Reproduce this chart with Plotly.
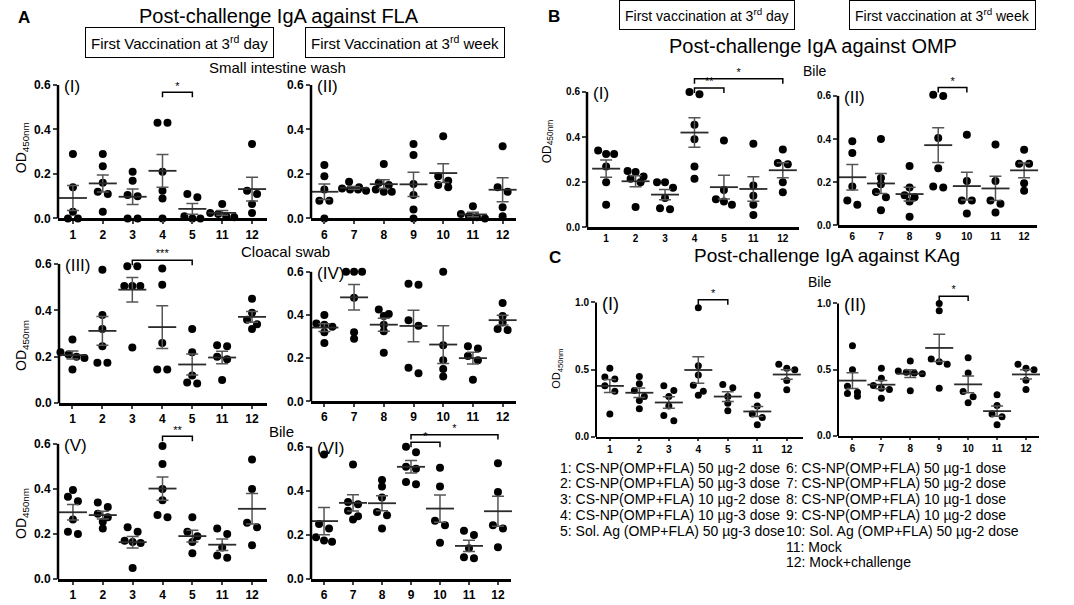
import numpy as np
import plotly.graph_objects as go

W, H = 1074, 605
FONT = "Arial, Liberation Sans, sans-serif"

cats_day = ["1", "2", "3", "4", "5", "11", "12"]
cats_week = ["6", "7", "8", "9", "10", "11", "12"]

# post-challenge IgA, OD450nm per bird, one list per group
fla_intestine_day = [
    [0.29, 0.14, 0.03, 0.0, 0.0],
    [0.29, 0.235, 0.16, 0.12, 0.11, 0.03],
    [0.21, 0.17, 0.105, 0.10, 0.0, 0.0],
    [0.43, 0.43, 0.21, 0.125, 0.09, 0.0],
    [0.11, 0.095, 0.01, 0.0, 0.0],
    [0.065, 0.025, 0.02, 0.01, 0.005],
    [0.335, 0.125, 0.11, 0.065, 0.025],
]
fla_intestine_week = [
    [0.24, 0.19, 0.13, 0.08, 0.08, 0.0],
    [0.165, 0.14, 0.135, 0.13, 0.13, 0.125],
    [0.245, 0.16, 0.15, 0.13, 0.12, 0.12],
    [0.335, 0.285, 0.155, 0.105, 0.04, 0.0],
    [0.37, 0.19, 0.17, 0.15, 0.14],
    [0.055, 0.02, 0.01, 0.005, 0.0],
    [0.325, 0.14, 0.12, 0.05, 0.01],
]
fla_cloacal_day = [
    [0.275, 0.22, 0.21, 0.2, 0.195, 0.145],
    [0.575, 0.38, 0.32, 0.245, 0.175, 0.175],
    [0.59, 0.59, 0.505, 0.505, 0.505, 0.24],
    [0.58, 0.51, 0.26, 0.145, 0.145],
    [0.32, 0.22, 0.12, 0.09, 0.085],
    [0.25, 0.245, 0.2, 0.19, 0.1],
    [0.45, 0.39, 0.36, 0.34, 0.32],
]
fla_cloacal_week = [
    [0.40, 0.36, 0.355, 0.345, 0.32, 0.27],
    [0.60, 0.60, 0.60, 0.48, 0.32, 0.29],
    [0.425, 0.405, 0.395, 0.355, 0.325, 0.225],
    [0.545, 0.54, 0.375, 0.35, 0.155, 0.13],
    [0.60, 0.26, 0.19, 0.15, 0.115],
    [0.255, 0.245, 0.21, 0.19, 0.1],
    [0.455, 0.395, 0.365, 0.335, 0.33],
]
fla_bile_day = [
    [0.395, 0.365, 0.345, 0.265, 0.21, 0.2],
    [0.34, 0.32, 0.29, 0.275, 0.255, 0.225],
    [0.23, 0.21, 0.17, 0.165, 0.16, 0.05],
    [0.59, 0.51, 0.40, 0.35, 0.285, 0.275],
    [0.275, 0.21, 0.19, 0.165, 0.115],
    [0.225, 0.2, 0.14, 0.105, 0.095],
    [0.53, 0.4, 0.25, 0.23, 0.15],
]
fla_bile_week = [
    [0.565, 0.25, 0.23, 0.19, 0.175, 0.17],
    [0.52, 0.35, 0.34, 0.31, 0.285, 0.27],
    [0.45, 0.42, 0.37, 0.305, 0.29, 0.23],
    [0.6, 0.575, 0.51, 0.5, 0.44, 0.43],
    [0.505, 0.42, 0.265, 0.245, 0.165],
    [0.22, 0.2, 0.14, 0.1, 0.095],
    [0.525, 0.395, 0.245, 0.23, 0.145],
]
omp_bile_day = [
    [0.34, 0.325, 0.325, 0.27, 0.2, 0.1],
    [0.25, 0.245, 0.225, 0.215, 0.2, 0.09],
    [0.2, 0.2, 0.175, 0.13, 0.085, 0.08],
    [0.6, 0.59, 0.455, 0.39, 0.27, 0.215],
    [0.385, 0.165, 0.125, 0.115, 0.1],
    [0.37, 0.185, 0.14, 0.1, 0.055],
    [0.345, 0.285, 0.28, 0.2, 0.155],
]
omp_bile_week = [
    [0.39, 0.335, 0.18, 0.115, 0.095],
    [0.4, 0.22, 0.19, 0.155, 0.13, 0.07],
    [0.275, 0.175, 0.14, 0.13, 0.11, 0.04],
    [0.605, 0.6, 0.405, 0.265, 0.18, 0.175],
    [0.42, 0.205, 0.115, 0.115, 0.055],
    [0.375, 0.205, 0.115, 0.1, 0.06],
    [0.35, 0.285, 0.285, 0.195, 0.16],
]
kag_bile_day = [
    [0.51, 0.445, 0.43, 0.38, 0.34, 0.17],
    [0.45, 0.395, 0.345, 0.3, 0.27, 0.21],
    [0.38, 0.345, 0.3, 0.23, 0.16, 0.12],
    [0.96, 0.53, 0.46, 0.385, 0.34, 0.31],
    [0.39, 0.365, 0.3, 0.25, 0.195],
    [0.31, 0.23, 0.17, 0.145, 0.09],
    [0.54, 0.51, 0.5, 0.42, 0.35],
]
kag_bile_week = [
    [0.68, 0.5, 0.375, 0.33, 0.32, 0.3],
    [0.51, 0.435, 0.38, 0.36, 0.35, 0.285],
    [0.565, 0.49, 0.48, 0.475, 0.47, 0.34],
    [1.0, 0.945, 0.58, 0.56, 0.54, 0.36],
    [0.59, 0.475, 0.335, 0.295, 0.25],
    [0.31, 0.23, 0.165, 0.145, 0.085],
    [0.54, 0.51, 0.5, 0.42, 0.35],
]

# significance: (group from, group to, bracket level, stars)
sig_fla_intestine_day = [(3, 4, 0.567, "*")]
sig_fla_cloacal_day = [(2, 4, 0.616, "***")]
sig_fla_bile_day = [(3, 4, 0.633, "**")]
sig_fla_bile_week = [(3, 4, 0.62, "*"), (3, 6, 0.655, "*")]
sig_omp_bile_day = [(3, 4, 0.617, "**"), (3, 6, 0.658, "*")]
sig_omp_bile_week = [(3, 4, 0.639, "*")]
sig_kag_bile_day = [(3, 4, 1.02, "*")]
sig_kag_bile_week = [(3, 4, 1.055, "*")]

legend_left = [
    "1: CS-NP(OMP+FLA) 50 µg-2 dose",
    "2: CS-NP(OMP+FLA) 50 µg-3 dose",
    "3: CS-NP(OMP+FLA) 10 µg-2 dose",
    "4: CS-NP(OMP+FLA) 10 µg-3 dose",
    "5: Sol. Ag (OMP+FLA) 50 µg-3 dose",
]
legend_right = [
    "6: CS-NP(OMP+FLA) 50 µg-1 dose",
    "7: CS-NP(OMP+FLA) 50 µg-2 dose",
    "8: CS-NP(OMP+FLA) 10 µg-1 dose",
    "9: CS-NP(OMP+FLA) 10 µg-2 dose",
    "10: Sol. Ag (OMP+FLA) 50 µg-2 dose",
    "11: Mock",
    "12: Mock+challenge",
]

# panel boxes in px: left, right, y of 0, y of top tick
panels = [
    dict(vals=fla_intestine_day, cats=cats_day, box=(58, 267, 221, 86), xr=(-0.5, 6.5),
         ymax=0.6, top=0.72, tag="(I)", sig=sig_fla_intestine_day, kind="A"),
    dict(vals=fla_intestine_week, cats=cats_week, box=(311, 516, 221, 86), xr=(-0.45, 6.45),
         ymax=0.6, top=0.72, tag="(II)", sig=[], kind="A"),
    dict(vals=fla_cloacal_day, cats=cats_day, box=(59, 267, 408, 267), xr=(-0.45, 6.5),
         ymax=0.6, top=0.72, tag="(III)", sig=sig_fla_cloacal_day, kind="A"),
    dict(vals=fla_cloacal_week, cats=cats_week, box=(311, 516, 406, 275), xr=(-0.45, 6.45),
         ymax=0.6, top=0.72, tag="(IV)", sig=[], kind="A"),
    dict(vals=fla_bile_day, cats=cats_day, box=(58, 267, 586, 449), xr=(-0.5, 6.5),
         ymax=0.6, top=0.72, tag="(V)", sig=sig_fla_bile_day, kind="A"),
    dict(vals=fla_bile_week, cats=cats_week, box=(311, 511, 586, 452), xr=(-0.45, 6.45),
         ymax=0.6, top=0.72, tag="(VI)", sig=sig_fla_bile_week, kind="A"),
    dict(vals=omp_bile_day, cats=cats_day, box=(587, 799, 230, 93), xr=(-0.65, 6.55),
         ymax=0.6, top=0.72, tag="(I)", sig=sig_omp_bile_day, kind="B"),
    dict(vals=omp_bile_week, cats=cats_week, box=(838, 1037, 228, 97), xr=(-0.5, 6.45),
         ymax=0.6, top=0.72, tag="(II)", sig=sig_omp_bile_week, kind="B"),
    dict(vals=kag_bile_day, cats=cats_day, box=(596, 803, 442, 306), xr=(-0.47, 6.55),
         ymax=1.0, top=1.15, tag="(I)", sig=sig_kag_bile_day, kind="C"),
    dict(vals=kag_bile_week, cats=cats_week, box=(838, 1039, 441, 307), xr=(-0.5, 6.45),
         ymax=1.0, top=1.15, tag="(II)", sig=sig_kag_bile_week, kind="C"),
]

# per figure part: axis width, tick font, x tick length, marker size
style = {
    "A": dict(lw=2.5, tick=12, xtl=3, ms=8),
    "B": dict(lw=2.5, tick=10, xtl=0, ms=8),
    "C": dict(lw=2, tick=10, xtl=2, ms=7),
}


def swarm(vals, ppu, ppc):
    # spread points of similar height sideways, like a column scatter
    vals = np.asarray(vals)
    order = np.argsort(-vals, kind="stable")
    xs = np.zeros(len(vals))
    rows, row = [], []
    for i in order:
        if row and (vals[row[0]] - vals[i]) * ppu > 6.5:
            rows.append(row)
            row = []
        row.append(i)
    rows.append(row)
    for row in rows:
        n = len(row)
        step = (10 if n == 2 else 8) / ppc
        for k, i in enumerate(row):
            xs[i] = (k - (n - 1) / 2) * step
    return xs


def px(x, y):
    return x / W, 1 - y / H


fig = go.Figure()
shapes = []
annotations = []
ink = "#2b2b2b"

for n, p in enumerate(panels, start=1):
    left, right, y0, yt = p["box"]
    st = style[p["kind"]]
    ppu = (y0 - yt) / p["ymax"]
    ppc = (right - left) / (p["xr"][1] - p["xr"][0])
    xa, ya = f"x{n}" if n > 1 else "x", f"y{n}" if n > 1 else "y"

    xs, ys = [], []
    for g, vals in enumerate(p["vals"]):
        xs.extend(g + swarm(vals, ppu, ppc))
        ys.extend(vals)
    fig.add_trace(go.Scatter(
        x=xs, y=ys, mode="markers", xaxis=xa, yaxis=ya, cliponaxis=False,
        marker=dict(color="black", size=st["ms"]), showlegend=False,
    ))

    means = [float(np.mean(v)) for v in p["vals"]]
    sems = [float(np.std(v, ddof=1) / np.sqrt(len(v))) for v in p["vals"]]
    fig.add_trace(go.Scatter(
        x=list(range(len(means))), y=means, mode="markers", xaxis=xa, yaxis=ya,
        cliponaxis=False, showlegend=False,
        marker=dict(symbol="line-ew", size=20, line=dict(color=ink, width=1.8)),
        error_y=dict(type="data", array=sems, color="#555", thickness=1.5, width=6),
    ))

    tick = 5 / ppu
    for a, b, lvl, stars in p["sig"]:
        fig.add_trace(go.Scatter(
            x=[a, a, b, b], y=[lvl - tick, lvl, lvl, lvl - tick], mode="lines",
            xaxis=xa, yaxis=ya, line=dict(color="black", width=1.5), showlegend=False,
        ))
        fig.add_trace(go.Scatter(
            x=[(a + b) / 2], y=[lvl], mode="text", text=[stars], textposition="top center",
            xaxis=xa, yaxis=ya, textfont=dict(size=11, color="black", family=FONT),
            showlegend=False, cliponaxis=False,
        ))

    dom_y = [1 - y0 / H, 1 - (y0 - ppu * p["top"]) / H]
    step = 0.2 if p["ymax"] < 1 else 0.5
    tfont = dict(family=FONT, size=st["tick"], color="black", weight="bold")
    fig.update_layout({
        f"xaxis{n}": dict(
            domain=[left / W, right / W], range=list(p["xr"]), anchor=ya,
            tickvals=list(range(len(p["cats"]))), ticktext=p["cats"],
            showline=True, linewidth=st["lw"], linecolor="black", ticks="outside",
            ticklen=st["xtl"], tickwidth=2, showgrid=False, zeroline=False, tickfont=tfont,
        ),
        f"yaxis{n}": dict(
            domain=dom_y, range=[0, p["top"]], anchor=xa,
            tickvals=list(np.round(np.arange(0, p["ymax"] + 1e-9, step), 2)),
            tickformat=".1f", showline=False, ticks="outside", ticklen=4,
            tickwidth=2, showgrid=False, zeroline=False, tickfont=tfont,
        ),
    })
    # y axis line stops at the top tick
    shapes.append(dict(type="line", xref="paper", yref="paper",
                       x0=left / W, x1=left / W, y0=1 - y0 / H, y1=1 - yt / H,
                       line=dict(color="black", width=st["lw"])))
    tx, ty = px(left + 4, yt + 2)
    annotations.append(dict(x=tx, y=ty, text=p["tag"], xanchor="left", yanchor="middle",
                            font=dict(size=18 if p["kind"] == "C" else 17, family=FONT)))


def text(x, y, s, size=15, **kw):
    ax, ay = px(x, y)
    d = dict(x=ax, y=ay, text=s, xanchor="center", yanchor="middle",
             font=dict(family=FONT, size=size, color="black"))
    d.update(kw)
    annotations.append(d)


def boxed(x, y, s, size=15):
    text(x, y, s, size, bordercolor="black", borderwidth=1, borderpad=5)


text(24, 18, "<b>A</b>", 17)
text(279, 16, "Post-challenge IgA against FLA", 20)
boxed(179, 43, "First Vaccination at 3<sup>rd</sup> day")
boxed(405, 43, "First Vaccination at 3<sup>rd</sup> week")
text(277, 68, "Small intestine wash", 15)
text(285, 254, "Cloacal swab", 15)
text(281, 437, "Bile", 15)

text(554, 17, "<b>B</b>", 17)
boxed(707, 15, "First vaccination at 3<sup>rd</sup> day", 14)
boxed(942, 15, "First vaccination at 3<sup>rd</sup> week", 14)
text(813, 47, "Post-challenge IgA against OMP", 20)
text(815, 72, "Bile", 14)

text(555, 261, "<b>C</b>", 17)
text(827, 258, "Post-challenge IgA against KAg", 19)
text(820, 285, "Bile", 14)

for x, y, size in [(22, 150, 14), (22, 350, 14), (22, 520, 14), (548, 143, 12), (557, 373, 11)]:
    text(x, y, "OD<sub>450nm</sub>", size, textangle=-90)

for i, s in enumerate(legend_left):
    text(558, 473 + i * 16, s, 14, xanchor="left")
for i, s in enumerate(legend_right):
    text(784, 473 + i * 16, s, 14, xanchor="left")

for a in annotations:
    a.setdefault("xref", "paper")
    a.setdefault("yref", "paper")
    a.setdefault("showarrow", False)

fig.update_layout(
    width=W, height=H, margin=dict(l=0, r=0, t=0, b=0),
    paper_bgcolor="white", plot_bgcolor="white",
    shapes=shapes, annotations=annotations, showlegend=False,
    font=dict(family=FONT, color="black"),
)

# the page body has a default 8px margin; drop it so the figure fills the window
fig.write_html(
    "out.html",
    config={"displayModeBar": False},
    post_script="document.body.style.margin = '0';",
)
